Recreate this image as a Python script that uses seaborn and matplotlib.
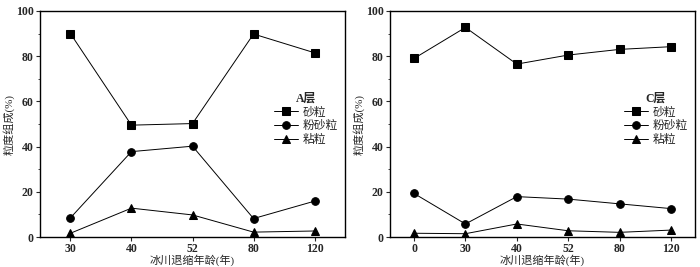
import matplotlib
matplotlib.use("Agg")
import matplotlib.pyplot as plt
import seaborn as sns
import pandas as pd
from matplotlib.ticker import MultipleLocator

sns.set_style("ticks")
plt.rcParams['font.family'] = ['Liberation Serif', 'Noto Sans CJK SC']
plt.rcParams['axes.unicode_minus'] = False

series_names = ["砂粒", "粉砂粒", "粘粒"]
markers = ["s", "o", "^"]

a_ages = ["30", "40", "52", "80", "120"]
a_sand = [90.0, 49.5, 50.2, 89.8, 81.5]
a_silt = [8.5, 37.8, 40.2, 8.2, 15.9]
a_clay = [1.7, 12.8, 9.8, 2.2, 2.7]

c_ages = ["0", "30", "40", "52", "80", "120"]
c_sand = [79.0, 92.7, 76.5, 80.5, 83.0, 84.2]
c_silt = [19.3, 5.8, 17.9, 16.8, 14.7, 12.6]
c_clay = [1.7, 1.5, 5.8, 2.8, 2.1, 3.1]

fig = plt.figure(figsize=(7.0, 2.67), dpi=100)
ax1 = fig.add_axes([0.057, 0.112, 0.436, 0.847])
ax2 = fig.add_axes([0.557, 0.112, 0.436, 0.847])

def draw(ax, ages, vals, title, xpad):
    for name, m, v in zip(series_names, markers, vals):
        df = pd.DataFrame({"age": ages, "val": v})
        sns.lineplot(data=df, x="age", y="val", ax=ax, sort=False, color="black",
                     marker=m, markersize=5.5, markeredgecolor="black", linewidth=0.7,
                     label=name)
    ax.set_ylim(0, 100)
    ax.set_xlim(-xpad, len(ages) - 1 + xpad)
    ax.yaxis.set_major_locator(MultipleLocator(20))
    ax.yaxis.set_minor_locator(MultipleLocator(10))
    ax.tick_params(axis="both", which="major", direction="out", length=3, width=0.8,
                   labelsize=8.5, pad=1.5)
    ax.tick_params(axis="y", which="minor", direction="out", length=1.5, width=0.6)
    for lab in ax.get_xticklabels() + ax.get_yticklabels():
        lab.set_fontweight("bold")
    for s in ax.spines.values():
        s.set_linewidth(1.0)
        s.set_color("black")
    ax.set_xlabel("冰川退缩年龄(年)", fontsize=8, labelpad=-0.5)
    ax.set_ylabel("粒度组成(%)", fontsize=8, labelpad=1)
    leg = ax.legend(title=title, loc="center left", bbox_to_anchor=(0.74, 0.52),
                    frameon=False, fontsize=8.5, title_fontsize=8.5,
                    handlelength=2.0, handletextpad=0.4, labelspacing=0.15,
                    borderpad=0.2)
    leg.get_title().set_fontweight("bold")

draw(ax1, a_ages, [a_sand, a_silt, a_clay], "A层", 0.5)
draw(ax2, c_ages, [c_sand, c_silt, c_clay], "C层", 0.47)

fig.savefig("out.png", dpi=100)
